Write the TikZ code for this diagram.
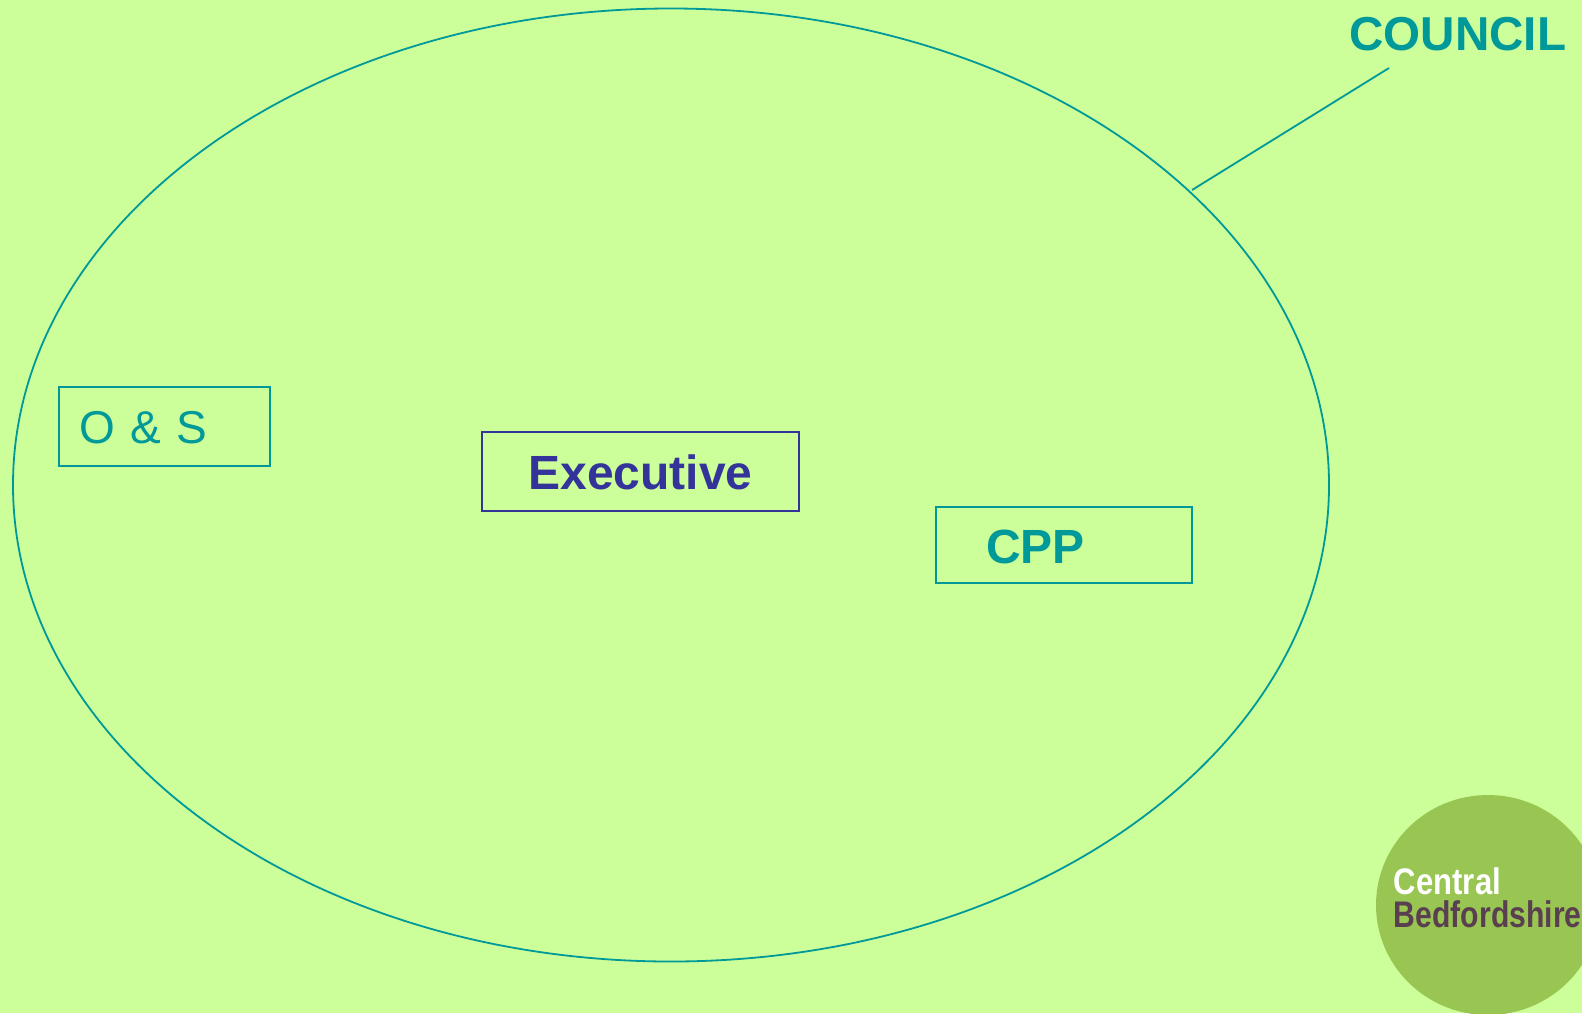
\documentclass[tikz,border=0pt]{standalone}
\usepackage{fontspec}
\setmainfont{Liberation Sans}
\usepackage{tikz}
\usetikzlibrary{positioning,shapes.geometric}
\definecolor{paper}{HTML}{CCFF99}
\definecolor{teal}{HTML}{009999}
\definecolor{indigo}{HTML}{333399}
\definecolor{logogreen}{HTML}{99C653}
\definecolor{logoplum}{HTML}{5A3F50}

\begin{document}
\begin{tikzpicture}[
                x=.5pt,y=-.5pt,
                line width=.9pt,
                box/.style={draw=teal,text=teal,rectangle,minimum height=39.5pt,inner ysep=0pt,align=left,text depth=0pt},
                logotext/.style={font=\fontsize{18.5}{20}\selectfont\bfseries,inner sep=0pt,anchor=base west}
            ]
                \path[use as bounding box,fill=paper] (0,0) rectangle (1582,1013);
                \node (council) [ellipse,draw=teal,inner sep=0pt,minimum width=658pt,minimum height=476.5pt] at (671,485) {};
                \node (os)   [box,inner xsep=10.5pt,text width=84.5pt,text height=17pt,font=\fontsize{23}{28}\selectfont] at (164.3,426.3) {O \& S};
                \node (exec) [box,draw=indigo,text=indigo,minimum width=158.5pt,text height=18pt,font=\fontsize{24}{28}\selectfont\bfseries] at (640.5,471.5) {Executive};
                \node (cpp)  [box,inner xsep=25pt,text width=78pt,minimum height=38pt,text height=18pt,font=\fontsize{24}{28}\selectfont\bfseries] at (1064,545) {CPP};
                \node (title) [text=teal,inner sep=0pt,anchor=base east,font=\fontsize{23.8}{28}\selectfont\bfseries] at (1567,50) {COUNCIL};
                \coordinate (rim) at (1192,190);
                \coordinate (tip) at (1389,68);
                \draw[teal] (rim) -- (tip);
                % logo runs off the page
                \begin{scope}
                    \clip (0,0) rectangle (1582,1013);
                    \node (logo) [ellipse,fill=logogreen,inner sep=0pt,minimum width=112pt,minimum height=110pt] at (1488,905) {};
                \end{scope}
                \node (central) [logotext,text=white] at (1393,894) {\scalebox{.84}[1]{Central}};
                \node (bedford) [logotext,text=logoplum,below=0pt of central.base west,anchor=base west,yshift=-16.5pt] {\scalebox{.815}[1]{Bedfordshire}};
            \end{tikzpicture}
\end{document}
